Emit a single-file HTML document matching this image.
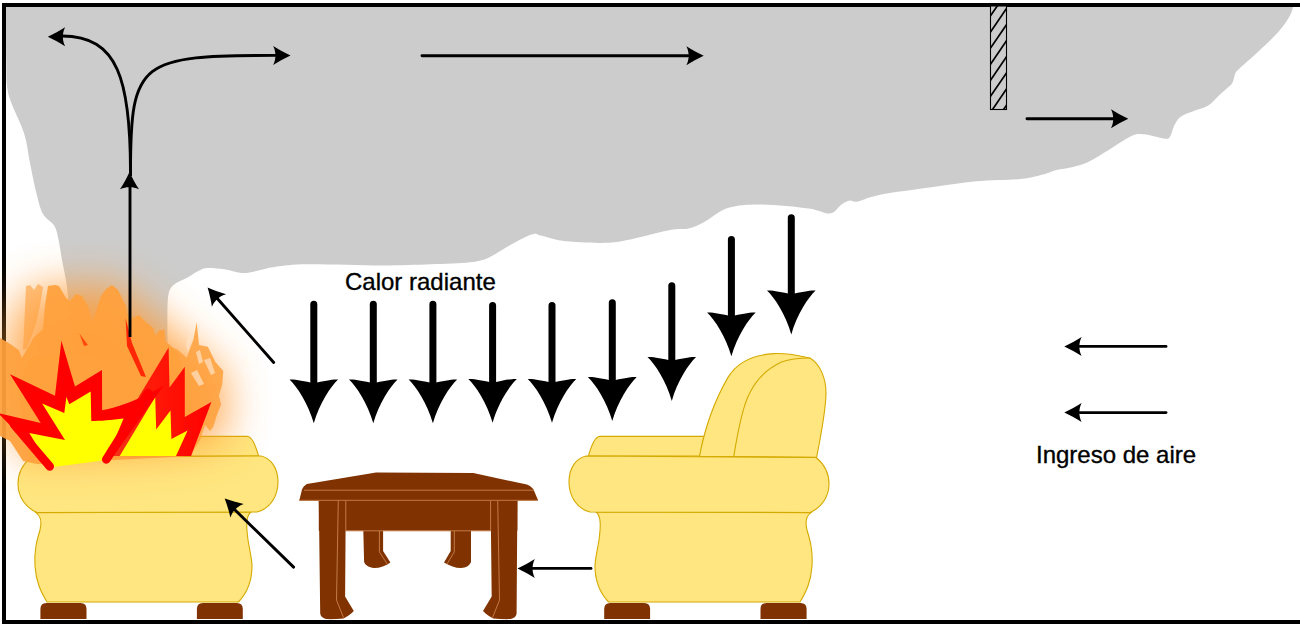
<!DOCTYPE html>
<html><head><meta charset="utf-8">
<style>
html,body{margin:0;padding:0;background:#fff;width:1300px;height:630px;overflow:hidden}
svg{display:block}
text{font-family:"Liberation Sans",sans-serif}
</style></head>
<body>
<svg width="1300" height="630" viewBox="0 0 1300 630">
<defs>
  <filter id="blur" x="-50%" y="-50%" width="200%" height="200%"><feGaussianBlur stdDeviation="22"/></filter>
  <linearGradient id="rg" x1="0" y1="0" x2="1" y2="0">
    <stop offset="0" stop-color="#ee3a1c"/>
    <stop offset="0.45" stop-color="#ff1a08"/>
    <stop offset="1" stop-color="#ff0000"/>
  </linearGradient>
  <path id="ah" d="M0,0 C6,-2.8 12,-6 17.3,-9.5 C15.2,-5 15,-2 15.2,0 C15,2 15.2,5 17.3,9.5 C12,6 6,2.8 0,0 Z"/>
  <path id="bh" d="M0,0 C-5.7,-20 -17,-37 -24.3,-43.8 C-19.5,-44.3 -10,-42.4 0,-40 C10,-42.4 19.5,-44.3 24.3,-43.8 C17,-37 5.7,-20 0,0 Z"/>
  <g id="sofa">
    <g fill="#ffe680" stroke="#d4aa00" stroke-width="1.1">
      <path d="M588.3,456 C591,448 594,437 600,436.3 L704,436.4 L700,456 Z"/>
      <path d="M699.5,456.4 C704,432 712,405 728,377.4 C736,364 750,355 773.8,353.6 C790,353 800,356 810,358 C820,364 826,378 826,393 C826,410 820,440 816.6,457.3 Z"/>
      <path d="M733.8,456.4 C738,430 743,405 750,392.6 C755,382 765,370 781.4,362.1 C790,359 800,358 810,358" fill="none"/>
      <path d="M596,512 C601,516 601,525 599,540 C597,552 595,560 595,566 C595,580 600,593 608.6,602 L800,602 C806,592 811,582 812,566 C813,550 810,540 807,530 C805,522 806,516 811,512.6 Z"/>
      <path d="M586,456 L816,457.5 C824,464 829,474 829,484 C829,497 821,508 810,512.5 L590,512 C577,509 569,496 569,482 C569,467 577,458 586,456 Z"/>
    </g>
    <g fill="#803300">
      <path d="M604.2,619 L604.2,609 Q604.2,603 610.2,603 L644.1,603 Q650.1,603 650.1,609 L650.1,619 Z"/>
      <path d="M760.5,619 L760.5,609 Q760.5,603 766.5,603 L800.6,603 Q806.6,603 806.6,609 L806.6,619 Z"/>
    </g>
  </g>
</defs>

<!-- smoke -->
<path fill="#cccccc" d="M1293.0,7.0 C1292.5,8.4 1292.2,11.7 1290.0,15.5 C1287.8,19.3 1285.0,24.2 1280.0,30.0 C1275.0,35.8 1266.7,43.7 1260.0,50.0 C1253.3,56.3 1244.1,64.1 1240.0,68.0 C1235.9,71.9 1236.6,70.9 1235.4,73.2 C1234.2,75.5 1233.8,79.7 1232.8,81.9 C1231.8,84.1 1231.3,84.3 1229.3,86.3 C1227.2,88.3 1224.0,90.9 1220.5,94.1 C1217.0,97.3 1212.7,102.7 1208.3,105.5 C1203.9,108.3 1199.0,108.8 1194.3,110.7 C1189.6,112.6 1183.6,114.4 1180.3,116.9 C1177.0,119.4 1175.8,122.5 1174.2,125.6 C1172.6,128.6 1172.2,133.0 1170.7,135.2 C1169.2,137.4 1170.0,138.8 1165.5,138.7 C1161.0,138.5 1149.4,134.7 1143.7,134.3 C1138.0,133.9 1137.2,133.5 1131.4,136.1 C1125.6,138.7 1116.0,145.6 1108.7,150.0 C1101.4,154.4 1093.8,159.4 1087.7,162.3 C1081.6,165.2 1077.2,165.9 1072.0,167.2 C1066.8,168.5 1061.3,168.9 1056.5,170.1 C1051.7,171.3 1049.0,173.1 1043.0,174.6 C1037.0,176.1 1031.9,177.9 1020.8,179.0 C1009.7,180.1 991.1,179.9 976.2,181.3 C961.3,182.7 947.5,185.1 931.5,187.3 C915.5,189.5 892.5,192.3 880.2,194.7 C868.0,197.0 863.2,200.4 858.0,201.4 C852.8,202.4 851.8,200.1 849.0,200.7 C846.2,201.2 844.4,202.6 841.2,204.7 C838.0,206.8 835.5,212.9 830.0,213.5 C824.5,214.1 819.8,210.0 808.5,208.5 C797.2,207.0 775.6,204.6 762.3,204.5 C749.0,204.4 738.2,204.8 728.5,207.8 C718.8,210.8 710.5,218.9 703.8,222.3 C697.1,225.8 694.1,227.2 688.5,228.5 C682.9,229.8 680.8,227.9 670.0,230.0 C659.2,232.1 635.6,238.7 623.8,240.8 C612.0,243.0 609.5,242.9 599.2,242.9 C589.0,242.9 572.0,242.0 562.3,240.8 C552.6,239.6 545.9,236.5 540.8,235.5 C535.7,234.5 537.1,232.7 531.5,234.6 C525.9,236.5 514.1,243.1 506.9,246.9 C499.7,250.8 494.6,255.1 488.5,257.7 C482.4,260.3 479.6,261.2 470.0,262.3 C460.4,263.4 445.6,263.8 430.8,264.3 C416.1,264.8 402.0,265.5 381.5,265.5 C361.0,265.5 325.3,264.1 307.7,264.3 C290.1,264.5 284.7,265.6 275.7,266.8 C266.7,268.0 259.2,270.7 253.5,271.7 C247.8,272.7 246.1,273.3 241.2,272.9 C236.3,272.5 229.7,270.0 224.0,269.2 C218.3,268.4 211.3,267.6 206.8,268.0 C202.3,268.4 200.2,270.1 196.9,271.7 C193.6,273.3 190.8,275.8 187.1,277.8 C183.4,279.9 177.9,281.3 174.8,284.0 C171.7,286.7 169.8,288.1 168.6,293.8 C167.4,299.6 167.5,307.5 167.4,318.5 C167.3,329.5 167.9,353.1 168.0,360.0 L75,360  C74.2,353.3 71.3,332.2 70.0,320.0 C68.7,307.8 68.3,297.0 67.0,287.0 C65.7,277.0 63.4,267.8 62.0,260.0 C60.6,252.2 59.9,245.7 58.6,240.0 C57.3,234.3 56.9,230.0 54.3,225.7 C51.7,221.4 46.0,219.3 43.0,214.0 C40.0,208.7 38.8,202.5 36.6,194.0 C34.4,185.5 32.0,173.0 30.0,163.0 C27.9,153.0 27.4,144.0 24.3,134.0 C21.2,124.0 14.3,111.0 11.4,103.0 C8.5,95.0 7.8,92.9 7.0,85.7 C6.2,78.5 6.5,73.1 6.3,60.0 C6.1,46.9 6.0,15.8 6.0,7.0 Z"/>

<!-- border -->
<path d="M1305,5 L4,5 L4,622 L1305,622" fill="none" stroke="#000" stroke-width="4"/>

<!-- hatched rect -->
<svg x="990" y="6" width="17" height="104" viewBox="990 6 17 104" overflow="hidden">
<rect x="990.5" y="6" width="16" height="103.5" fill="#cccccc"/>
<g stroke="#000" stroke-width="1.7"><line x1="990" y1="16.6" x2="1007" y2="-8.3"/><line x1="990" y1="32.7" x2="1007" y2="7.8"/><line x1="990" y1="48.8" x2="1007" y2="23.9"/><line x1="990" y1="64.9" x2="1007" y2="40.0"/><line x1="990" y1="81.0" x2="1007" y2="56.1"/><line x1="990" y1="97.1" x2="1007" y2="72.2"/><line x1="990" y1="113.2" x2="1007" y2="88.3"/><line x1="990" y1="129.3" x2="1007" y2="104.4"/><line x1="990" y1="145.4" x2="1007" y2="120.5"/></g>
</svg>
<rect x="990.5" y="6" width="16" height="103.5" fill="none" stroke="#000" stroke-width="1.1"/>

<!-- left sofa (mirror) -->
<use href="#sofa" transform="matrix(-1,0,0,1,847,0)"/>
<!-- right sofa -->
<use href="#sofa"/>

<!-- table -->
<g fill="#803300">
  <path d="M363.3,530 L383.1,530 L383.1,551 L390.4,562.5 C386,566 380,568 374,568 C369,567.5 365,565 364.1,562 Z"/>
  <path d="M450.7,530 L471,530 L471,562 C470,565 466,568 461,568 C455,568 450,566 444,562.5 L450.7,551 Z"/>
  <path d="M299.2,500.7 L302,489.4 C303,487 305,485 306.9,484 L376,472.4 L473.3,473.1 L526.9,484.6 C530,486 532,487.5 533.5,489.4 L538.2,500.5 Z"/>
  <path d="M318.8,500 L517.4,500 L517.4,530.8 L318.8,530.8 Z"/>
  <path d="M318.8,500 L345.8,500 L345.1,596.5 L353.8,611.1 C350,615 346,617.5 343.6,618.4 C338,619 332,619.3 326,619.1 C322,618 320.5,616 320.2,613.3 Z"/>
  <path d="M490.6,500 L517.4,500 L516.6,613.3 C516.3,616 514.8,618 510.8,619.1 C504.8,619.3 498.8,619 493.2,618.4 C490.8,617.5 486.8,615 483,611.1 L491.7,596.5 Z"/>
</g>
<g stroke="#c27a45" stroke-width="1" fill="none">
  <path d="M304,490.2 L534,490.2"/>
  <path d="M299.5,500.3 L537.5,500.3"/>
  <path d="M345.8,530.8 L490.6,530.8"/>
  <path d="M345.8,500.5 L345.8,530.8"/>
  <path d="M490.6,500.5 L490.6,530.8"/>
  <path d="M338.3,500.5 L336.5,600.1 L343.6,617.7"/>
  <path d="M497.7,500.5 L499.5,600.1 L492.5,617.7"/>
  <path d="M379.4,531 L379.4,551.9 L387.4,564.3"/>
  <path d="M454.3,531 L454.3,551.9 L446.8,564.3"/>
</g>

<!-- fire -->
<g>
  <path filter="url(#blur)" fill="#ff9a30" opacity="0.85" d="M5,345 L28,290 L115,285 L170,330 L225,375 L225,440 L150,450 L20,455 Z"/>
  <path fill="#ffa03c" opacity="0.85" d="M168,345 L178,350 L186.7,357.8 L193.3,340 L196.7,322.2 L199,345 L207.8,346.7 L215.6,362.2 L223.3,371.1 L222.2,384.4 L218.9,395.6 L221.1,404.4 L216.7,415.6 L213.3,426.7 L210,431.1 L205,425 L200,440 L190,456 L160,456 Z"/>
  <g fill="#ffe3c6" opacity="0.7">
    <path d="M191,373 L197,370 L204,384 L199,386 Z"/>
    <path d="M204,360 L210,358 L215,373 L211,375 Z"/>
    <path d="M196,352 L200,350 L203,362 L199,364 Z"/>
    <path d="M186,345 L190,330 L192,338 L188,352 Z"/>
  </g>
  <path fill="#ffa03c" opacity="0.6" d="M26,286 L30,285 L34,290 L38,284 L43,287 L41,300 L37,320 L32,335 L27,348 L23,350 L24,330 Z"/>
  <path fill="#ffa03c" opacity="0.93" d="M0,338 L9.5,343.6 L19,350.2 L21.9,357.9 L28.6,346.4 L33.3,337.9 L42.9,329.3 L45,306 L48,286 L55,285 L59,286 L66,298 L70,301 L76,294 L82,296 L88,306 L92,322 L96,312 L101,296 L106,289 L112,285 L118,290 L126,306 L128,317 L132.2,318.3 L138.9,315 L145.6,321.7 L153.3,328.3 L155.6,336 L158.9,330.6 L164.4,329.4 L165.6,341.7 L170,345 L178,355 L185,380 L190,400 L196,420 L192,456 L37,464 L23,461 L10,441 L0,436 Z"/>
  <path fill="#ff1a00" opacity="0.9" d="M125.6,318.3 L132,343 L146,377 L141,376 L127,346 Z"/>
  <path fill="#ff3300" opacity="0.8" d="M79.4,333.6 L88,345 L84,346 Z"/>
  <path fill="url(#rg)" d="M103,456 L168.6,347.6 L169.5,387.6 L184.8,366.7 L184.8,417.1 L211.4,401.9 L191,456 Z"/>
  <path fill="#ffff00" d="M119.7,456 L155.2,397.1 L156.2,429.5 L170.5,410.5 L171.4,439 L187.6,430.5 L176,456 Z"/>
  <path fill="#ff0000" d="M-2,413 L40.7,422.9 L10,374.3 L55,395.7 L61.4,340.7 L75,386.4 L102,370 L102.1,410.2 C115,408 135,402 163.3,386 L110,461 L95,445 L62,448 L50,466.5 Z"/>
  <path fill="#ffff00" d="M29.3,432.9 L65,440 L42.1,403.6 L64.3,412.9 L66.4,397.1 L69.3,404.3 L90.7,391.4 L91.3,421.1 C100,421 112,420 123.6,418.5 L106.2,460 L50,467.5 Z"/>
  <g stroke="#ff0000" stroke-width="8.5" stroke-linecap="round" fill="none">
    <path d="M49.8,466.5 L14,424.5"/>
    <path d="M106.2,459.4 L148,393"/>
  </g>
</g>

<!-- arrows (thin) -->
<g fill="none" stroke="#000" stroke-width="2.9">
  <path d="M130,337 L130,185"/>
  <path d="M130.5,176 L130.5,172 C130.5,80 118,36 62,36"/>
  <path d="M130.5,176 L130.5,172 C130.5,60 140,55.4 276,55.4"/>
  <path d="M422,55.7 L688,55.7" stroke-linecap="round"/>
  <path d="M1027,118.8 L1113,118.8" stroke-linecap="round"/>
  <path d="M1166,346.4 L1080,346.4" stroke-linecap="round"/>
  <path d="M1166,412.6 L1080,412.6" stroke-linecap="round"/>
  <path d="M591,568.4 L533,568.4" stroke-linecap="round"/>
  <path d="M273.7,362.5 L216,297" stroke-linecap="round"/>
  <path d="M293.6,567.1 L234,509" stroke-linecap="round"/>
</g>
<g fill="#000">
  <use href="#ah" transform="translate(47.8,36.7) rotate(0)"/>
  <use href="#ah" transform="translate(290.5,55.4) rotate(180)"/>
  <use href="#ah" transform="translate(703.7,55.7) rotate(180)"/>
  <use href="#ah" transform="translate(1128.3,118.8) rotate(180)"/>
  <use href="#ah" transform="translate(1064.3,346.4)"/>
  <use href="#ah" transform="translate(1064.3,412.6)"/>
  <use href="#ah" transform="translate(517.5,568.4)"/>
  <use href="#ah" transform="translate(129.5,172) rotate(90)"/>
  <use href="#ah" transform="translate(207.6,287.6) rotate(48.6)"/>
  <use href="#ah" transform="translate(224.7,498.6) rotate(44.5)"/>
</g>

<!-- down arrows -->
<g stroke="#000" stroke-width="7" stroke-linecap="round"><path d="M313.8,304.2 L313.8,385.3"/><path d="M373.3,304.2 L373.3,385.3"/><path d="M432.9,304.2 L432.9,385.3"/><path d="M492.6,305.5 L492.6,384.8"/><path d="M552.0,305.5 L552.0,384.8"/><path d="M612.3,302.8 L612.3,383.0"/><path d="M671.8,285.7 L671.8,362.9"/><path d="M731.4,239.5 L731.4,318.3"/><path d="M791.3,217.7 L791.3,296.4"/></g>
<g fill="#000"><use href="#bh" transform="translate(313.8,423.3)"/><use href="#bh" transform="translate(373.3,423.3)"/><use href="#bh" transform="translate(432.9,423.3)"/><use href="#bh" transform="translate(492.6,422.8)"/><use href="#bh" transform="translate(552.0,422.8)"/><use href="#bh" transform="translate(612.3,421.0)"/><use href="#bh" transform="translate(671.8,400.9)"/><use href="#bh" transform="translate(731.4,356.3)"/><use href="#bh" transform="translate(791.3,334.4)"/></g>

<!-- texts -->
<text x="345" y="289.7" font-size="24" fill="#000" stroke="#000" stroke-width="0.35">Calor radiante</text>
<text x="1036" y="463.4" font-size="24" fill="#000" stroke="#000" stroke-width="0.35">Ingreso de aire</text>
</svg>
</body></html>
